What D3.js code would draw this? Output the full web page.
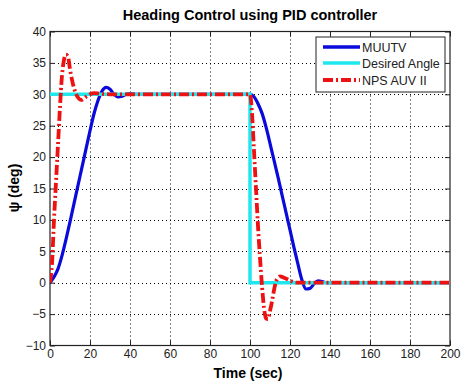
<!DOCTYPE html>
<html><head><meta charset="utf-8">
<script src="https://cdn.jsdelivr.net/npm/d3@7"></script>
<style>body{margin:0;background:#fff;}text{font-family:"Liberation Sans",Arial,sans-serif;}</style>
</head><body><svg id="c" width="461" height="383"></svg>
<script>
const xTicks = [0,20,40,60,80,100,120,140,160,180,200];
const yTicks = [-10,-5,0,5,10,15,20,25,30,35,40];
const seriesNames = ["MUUTV","Desired Angle","NPS AUV II"];
const muutv = [[0,0],[2,0.9],[4,2.2],[6,4.3],[8,6.9],[10,9.7],[12,12.6],[14,15.5],[16,18.4],[18,21.3],[20,24.2],[22,26.9],[24,29],[26,30.5],[28,31.1],[30,30.8],[32,30],[34,29.6],[36,29.7],[38,30],[40,30.1],[44,30],[100,30],[102,29.6],[104,28.5],[106,27],[108,24.8],[110,22.2],[112,19.5],[114,16.8],[116,14],[118,11.2],[120,8.4],[122,5.6],[124,2.9],[126,0.4],[128,-1.0],[130,-0.9],[132,-0.2],[134,0.3],[136,0.2],[138,0],[200,0]];
const desired = [[0,30],[100,30],[100,0],[200,0]];
const nps = [[0,0],[1,3],[2,10],[3,16],[4,22],[5,28],[6,33],[7,35.5],[8,36.3],[9,36],[10,34],[11,32.3],[12,31],[14,29.5],[15.5,29.1],[18,29.6],[20,30],[22,30.2],[25,30.1],[30,30],[100,30],[101,27],[102,21],[103,15],[104,9],[105,4],[106,-0.5],[107,-4],[108,-5.7],[109,-5.8],[110,-4.5],[111,-3],[112,-1.2],[113,0.2],[114,0.8],[115,1],[117,0.8],[119,0.5],[121,0.2],[123,0],[200,0]];

const svg = d3.select("#c");
const L=50,R=450,T=31.5,B=345.5;
const x = d3.scaleLinear().domain([0,200]).range([L,R]);
const y = d3.scaleLinear().domain([-10,40]).range([B,T]);

// grid
const g = svg.append("g");
g.selectAll(".gx").data(xTicks.slice(1,-1)).enter().append("line")
 .attr("x1",d=>x(d)+0.5).attr("x2",d=>x(d)+0.5).attr("y1",T).attr("y2",B)
 .attr("stroke","#000").attr("stroke-width",1).attr("stroke-dasharray","1,3");
g.selectAll(".gy").data(yTicks.slice(1,-1)).enter().append("line")
 .attr("y1",d=>Math.round(y(d))+0.5).attr("y2",d=>Math.round(y(d))+0.5).attr("x1",L).attr("x2",R)
 .attr("stroke","#000").attr("stroke-width",1).attr("stroke-dasharray","1,3");

// axes
const ax = svg.append("g").attr("transform",`translate(0,${B})`).call(d3.axisBottom(x).tickValues(xTicks).tickSizeInner(-5).tickSizeOuter(0).tickPadding(4));
const axT = svg.append("g").attr("transform",`translate(0,${T})`).call(d3.axisTop(x).tickValues(xTicks).tickSizeInner(-5).tickSizeOuter(0).tickFormat(""));
const ay = svg.append("g").attr("transform",`translate(${L},0)`).call(d3.axisLeft(y).tickValues(yTicks).tickSizeInner(-5).tickSizeOuter(0).tickPadding(4));
const ayR = svg.append("g").attr("transform",`translate(${R},0)`).call(d3.axisRight(y).tickValues(yTicks).tickSizeInner(-5).tickSizeOuter(0).tickFormat(""));
[ax,axT,ay,ayR].forEach(a=>{a.select(".domain").remove();a.selectAll("line").attr("stroke","#222");a.selectAll("text").attr("font-size","12px").attr("fill","#222").attr("font-family","Liberation Sans, Arial, sans-serif");});
svg.append("rect").attr("x",L).attr("y",T).attr("width",R-L).attr("height",B-T).attr("fill","none").attr("stroke","#222").attr("stroke-width",1.2);

// lines
const line = d3.line().x(d=>x(d[0])).y(d=>y(d[1]));
const clip = svg.append("clipPath").attr("id","cp").append("rect").attr("x",L).attr("y",T).attr("width",R-L).attr("height",B-T);
const pg = svg.append("g").attr("clip-path","url(#cp)");
pg.append("path").datum(muutv).attr("d",line.curve(d3.curveMonotoneX)).attr("fill","none").attr("stroke","#0a0adc").attr("stroke-width",3.2);
pg.append("path").datum(desired).attr("d",d3.line().x(d=>x(d[0])).y(d=>y(d[1]))).attr("fill","none").attr("stroke","#1ee8ee").attr("stroke-width",3.5);
pg.append("path").datum(nps).attr("d",d3.line().x(d=>x(d[0])).y(d=>y(d[1])).curve(d3.curveMonotoneX)).attr("fill","none").attr("stroke","#ee1111").attr("stroke-width",3.8).attr("stroke-dasharray","10,3,2,3");

// title & labels
svg.append("text").attr("x",250).attr("y",20).attr("text-anchor","middle").attr("font-weight","bold").attr("font-size","14.5px").text("Heading Control using PID controller");
svg.append("text").attr("x",248).attr("y",378).attr("text-anchor","middle").attr("font-weight","bold").attr("font-size","14px").text("Time (sec)");
svg.append("text").attr("transform","translate(19,188) rotate(-90)").attr("text-anchor","middle").attr("font-weight","bold").attr("font-size","14px").text("ψ (deg)");

// legend
const lg = svg.append("g");
lg.append("rect").attr("x",316).attr("y",37).attr("width",129).attr("height",55).attr("fill","#fff").attr("stroke","#222").attr("stroke-width",1);
const cols=["#0a0adc","#1ee8ee","#ee1111"], dash=[null,null,"10,3,2,3"], ly=[47,63,80];
seriesNames.forEach((n,i)=>{
  const l=lg.append("line").attr("x1",323).attr("x2",360).attr("y1",ly[i]).attr("y2",ly[i]).attr("stroke",cols[i]).attr("stroke-width",i==2?3.8:3.5);
  if(dash[i]) l.attr("stroke-dasharray",dash[i]);
  lg.append("text").attr("x",362).attr("y",ly[i]+4.5).attr("font-size","12.5px").attr("fill","#222").text(n);
});
</script></body></html>
